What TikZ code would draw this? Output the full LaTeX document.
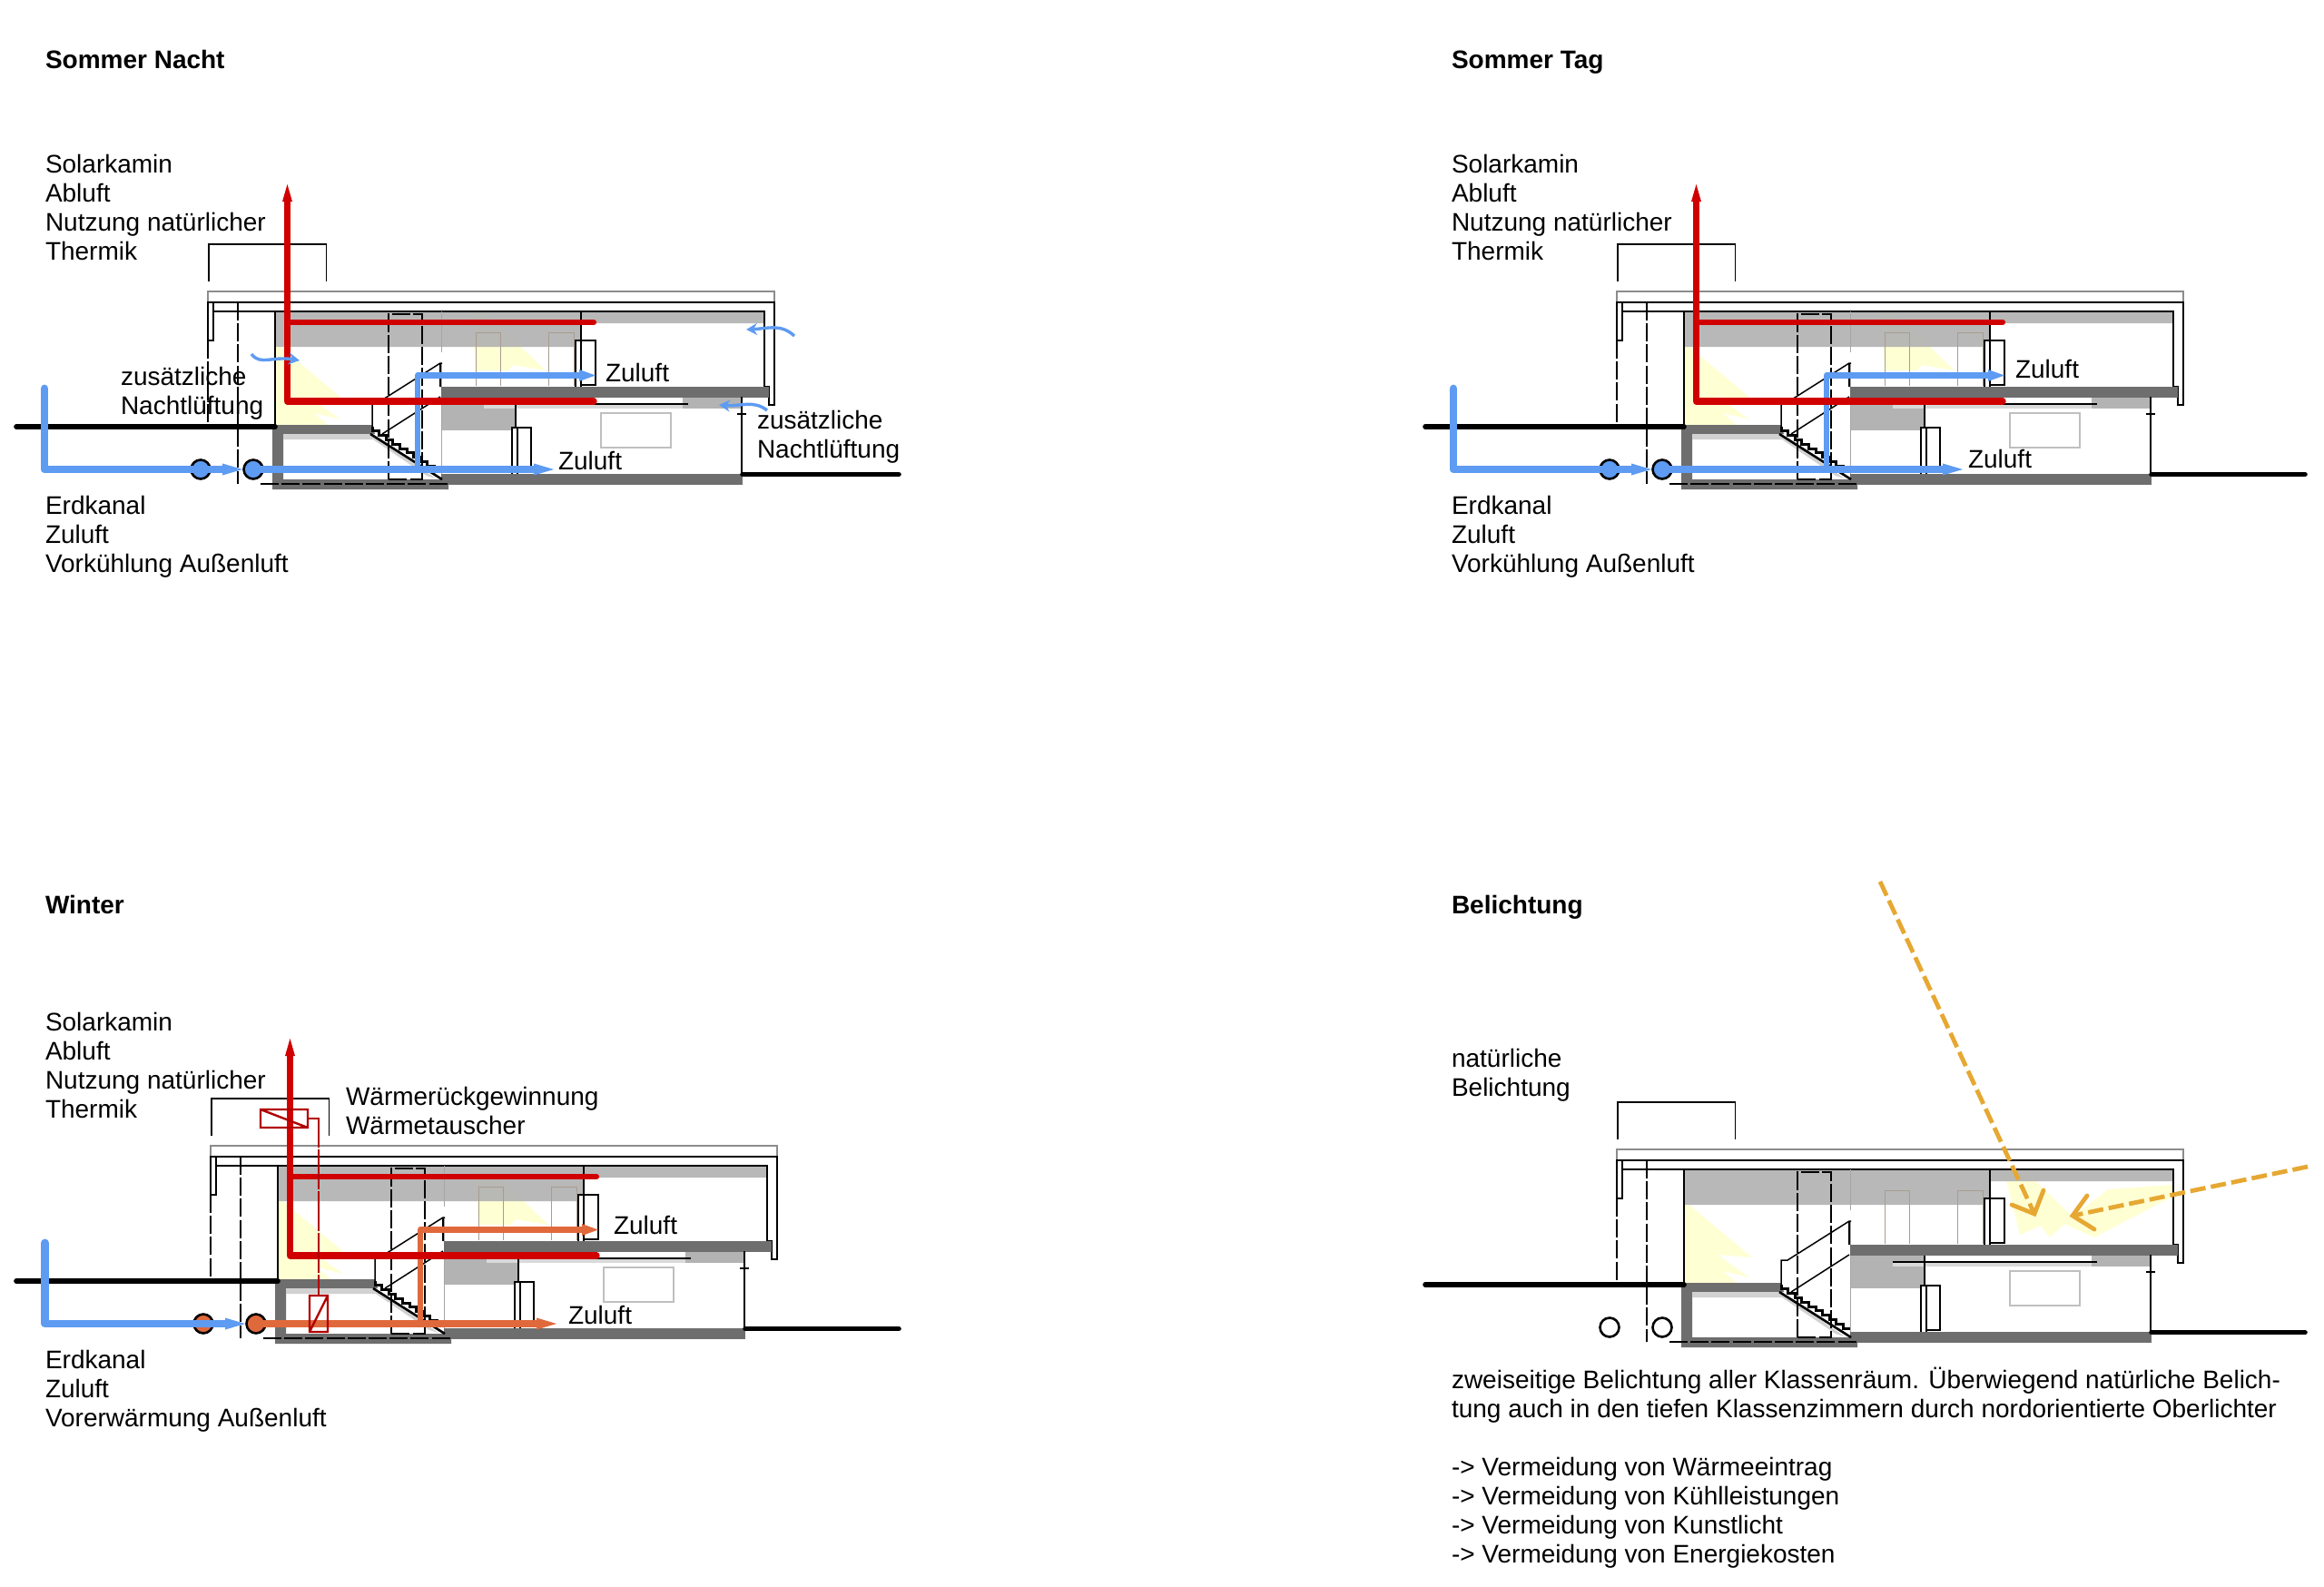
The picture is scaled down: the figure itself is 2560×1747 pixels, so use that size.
\documentclass[tikz,border=0pt]{standalone}
\usepackage{fontspec}
\setmainfont{Liberation Sans}
\usetikzlibrary{arrows.meta}
\definecolor{redair}{HTML}{D00000}
\definecolor{blueair}{HTML}{5E9BF2}
\definecolor{warmair}{HTML}{E0693C}
\definecolor{sunline}{HTML}{E6A832}
\definecolor{sunpatch}{HTML}{FFFFD4}
\definecolor{slabgrey}{HTML}{6E6E6E}
\definecolor{ceilgrey}{HTML}{B3B3B3}
\definecolor{doorline}{HTML}{A89C90}
\tikzset{
  x=0.5pt,y=-0.5pt,
  lbl/.style={anchor=north west,inner sep=0pt,outer sep=0pt,align=left,font=\fontsize{14}{16}\selectfont},
  hd/.style={lbl,font=\fontsize{14}{16}\selectfont\bfseries},
  thinblk/.style={draw=black,line width=0.75pt},
  longdash/.style={draw=black,line width=0.6pt,dash pattern=on 10pt off 1.6pt},
  hvac/.style={line width=#1,line cap=round,line join=round},
  sun/.style={draw=sunline,line width=2.4pt,line cap=round},
  sundash/.style={sun,line cap=butt,dash pattern=on 8.5pt off 3pt},
  swoosh/.style={draw=blueair,line width=1.7pt,-{Stealth[length=6pt,width=6.5pt]}},
}
\newcommand{\txt}[5][lbl]{\node[#1] (#2) at (#3,#4-22) {\rule{0pt}{11pt}#5};}
\newcommand{\gndL}{18}
\newcommand{\gndR}{990}
\newcommand{\ductX}{49}
% ---- one building section, in coordinates of the first panel
\newcommand{\building}{%
  % shaded ceilings
  \fill[ceilgrey,opacity=.93] (304,344)--(842,344)--(842,356)--(640,356)--(640,375)--(634,375)--(634,382)--(304,382)--cycle;
  \fill[ceilgrey] (486,438)--(568,438)--(568,474)--(486,474)--cycle;
  \fill[black!15] (533,445)--(752,445)--(752,450)--(533,450)--cycle;
  \fill[ceilgrey] (752,438)--(817,438)--(817,450)--(752,450)--cycle;
  % overhead frame
  \draw[black!45,line width=.7pt] (229,333)--(229,321)--(853,321)--(853,333);
  \draw[black,line width=.6pt] (230,310)--(230,269)--(359.5,269)--(359.5,310);
  \draw[black,line width=1.4pt,line join=miter] (229,333)--(853,333)--(853,446)--(847,446)--(847,426)--(842,426)--(842,343)--(235,343);
  \draw[black,line width=1.2pt,fill=white] (229,333) rectangle (235,375);
  % thin verticals
  \draw[thinblk] (303,343)--(303,470);
  \draw[thinblk] (640,343)--(640,427);
  \draw[black!35,line width=.5pt] (486,343)--(486,388) (486,400)--(486,523);
  % doors
  \draw[doorline,line width=.5pt] (524,425)--(524,366)--(551,366)--(551,425);
  \draw[doorline,line width=.5pt] (604,425)--(604,366)--(632,366)--(632,425);
  % wardrobe boxes
  \draw[thinblk,fill=white] (634,375) rectangle (656,424);
  \draw[thinblk,fill=white] (634,375) rectangle (640,427);
  \draw[thinblk] (568,438)--(568,471);
  \draw[thinblk,fill=white] (564,471) rectangle (585,520);
  \draw[thinblk,fill=white] (564,471) rectangle (570,523);
  % window
  \draw[black!25,line width=.7pt] (662,455) rectangle (739,493);
  % slabs
  \fill[slabgrey] (486,426)--(847,426)--(847,438)--(486,438)--cycle;
  \fill[slabgrey] (486,522)--(818,522)--(818,534)--(486,534)--cycle;
  % basement
  \fill[slabgrey] (300,468)--(410,468)--(413,478)--(312,478)--(312,528)--(486,528)--(494,528)--(494,539)--(300,539)--cycle;
  \fill[black!18] (312,478)--(410,478)--(418,484)--(312,484)--cycle;
  \fill[black!18] (408,478)--(480,527)--(470,524)--(405,480)--cycle;
  % stairs
  \draw[black,line width=1.3pt] (408,478)--(487,528);
  \draw[black,line width=1.5pt] (410,470)
    \foreach \i in {1,...,10}{ -- ++(0,4.8) -- ++(7.6,0) };
  \draw[black,line width=.75pt] (410,470)--(410,443)--(417,443)--(485,400)--(487,400);
  \draw[black,line width=1pt] (485,400)--(485,426);
  \draw[black,line width=.75pt] (421,478)--(485,437);
  % dashed lines
  \draw[longdash] (229,375)--(229,466);
  \draw[longdash] (262,333)--(262,533);
  \draw[longdash] (428,528)--(428,346)--(465,346)--(465,528)--(428,528);
  \draw[longdash] (287,533)--(493,533);
  % outer walls at the right
  \draw[thinblk] (817,437)--(817,522);
  \draw[thinblk,line width=.6pt] (812,456)--(822,456);
  \draw[black,line width=.9pt] (533,445)--(758,445);
  % ground
  \draw[black,line width=2.8pt,line cap=round] (\gndL,470)--(303,470);
  \draw[black,line width=2.8pt,line cap=round] (818,522.5)--(\gndR,522.5);
}
\newcommand{\sideyellow}{\fill[sunpatch] (304,378)--(378,440)--(340,437)--(375,462)--(346,455)--(361,468)--(304,468)--cycle;}
\newcommand{\midyellow}{\fill[sunpatch] (520,345)--(535,345)--(601,408)--(565,402)--(560,408)--(524,408)--cycle;}
\newcommand{\drain}[2]{%
  \draw[black,line width=1.3pt,fill=#1] (221,517) circle (10.5);
  \draw[black,line width=1.3pt,fill=#2] (279,517) circle (10.5);
}
\newcommand{\airsystem}[3]{% first colour, second colour, circle colour
  \draw[hvac=4.4pt,draw=#1] (\ductX,428)--(\ductX,517)--(248,517);
  \fill[#1] (245,510.5)--(245,523.5)--(267,517)--cycle;
  \draw[hvac=4.2pt,draw=#2,line cap=butt] (279,517)--(592,517);
  \fill[#2] (588,510.5)--(588,523.5)--(610,517)--cycle;
  \draw[hvac=3.3pt,draw=#2,line cap=butt] (460,517)--(460,413.5)--(642,413.5);
  \fill[#2] (638,407)--(638,420)--(656,413.5)--cycle;
}
\newcommand{\exhaust}{%
  \draw[redair,line width=3.7pt,line join=round,line cap=round] (316.5,222)--(316.5,442)--(654,442);
  \draw[redair,line width=3.1pt,line cap=round] (316.5,355)--(654,355);
  \fill[redair] (316.5,203)--(322,222)--(311,222)--cycle;
}
\begin{document}
\begin{tikzpicture}
\useasboundingbox (0,0) rectangle (2560,1747);
\fill[white] (0,0) rectangle (2560,1747);

% ============ Sommer Nacht
\begin{scope}
  \sideyellow \midyellow \building
  \drain{blueair}{blueair}
  \airsystem{blueair}{blueair}{blueair}
  \exhaust
  \draw[swoosh] (277,390) .. controls (287,403) and (300,392) .. (330,397);
  \draw[swoosh] (875,370) .. controls (860,356) and (845,362) .. (822,363);
  \draw[swoosh] (845,452) .. controls (830,440) and (815,448) .. (792,446);
\end{scope}
\txt[hd]{tnacht}{50}{75}{Sommer Nacht}
\txt{a1}{50}{190.5}{Solarkamin\\Abluft\\Nutzung natürlicher\\Thermik}
\txt{a2}{133}{424}{zusätzliche\\Nachtlüftung}
\txt{a3}{667}{420}{Zuluft}
\txt{a4}{615}{517}{Zuluft}
\txt{a5}{834}{472}{zusätzliche\\Nachtlüftung}
\txt{a6}{50}{566}{Erdkanal\\Zuluft\\Vorkühlung Außenluft}

% ============ Sommer Tag
\begin{scope}[shift={(1552,0)}]
  \renewcommand{\gndR}{987}
  \sideyellow \midyellow \building
  \drain{blueair}{blueair}
  \airsystem{blueair}{blueair}{blueair}
  \exhaust
\end{scope}
\txt[hd]{ttag}{1599}{75}{Sommer Tag}
\txt{b1}{1599}{190.5}{Solarkamin\\Abluft\\Nutzung natürlicher\\Thermik}
\txt{b3}{2220}{416}{Zuluft}
\txt{b4}{2168}{515}{Zuluft}
\txt{b6}{1599}{566}{Erdkanal\\Zuluft\\Vorkühlung Außenluft}

% ============ Winter
\begin{scope}[shift={(3,941)}]
  \renewcommand{\gndL}{15}
  \renewcommand{\gndR}{987}
  \renewcommand{\ductX}{46.5}
  \sideyellow \midyellow \building
  \drain{warmair}{warmair}
  \airsystem{blueair}{warmair}{warmair}
  \exhaust
  % heat exchangers
  \draw[redair!85!black,line width=.55pt,dash pattern=on 22pt off 1pt] (336,291)--(348,291)--(348,486);
  \draw[redair!85!black,line width=1.2pt] (284,281) rectangle (336,301) (284,281)--(336,301);
  \draw[redair!85!black,line width=1.2pt] (338,486) rectangle (358,526) (338,526)--(358,486);
\end{scope}
\txt[hd]{twinter}{50}{1006}{Winter}
\txt{c1}{50}{1135}{Solarkamin\\Abluft\\Nutzung natürlicher\\Thermik}
\txt{c2}{381}{1217}{Wärmerückgewinnung\\Wärmetauscher}
\txt{c3}{676}{1359}{Zuluft}
\txt{c4}{626}{1458}{Zuluft}
\txt{c6}{50}{1507}{Erdkanal\\Zuluft\\Vorerwärmung Außenluft}

% ============ Belichtung
\begin{scope}[shift={(1552,945)}]
  \renewcommand{\gndR}{987}
  \sideyellow
  \fill[sunpatch] (656,347)--(681,347)--(731,395)--(706,418)--(696,405)--(673,415)--cycle;
  \fill[sunpatch] (770,365)--(841,360)--(841,373)--(755,418)--(711,398)--(731,395)--cycle;
  \building
  \draw[black,line width=1.3pt] (221,517) circle (10.5);
  \draw[black,line width=1.3pt] (279,517) circle (10.5);
\end{scope}
\coordinate (s1) at (2071,971);
\coordinate (s1t) at (2241,1337);
\coordinate (s2) at (2542,1285);
\coordinate (s2t) at (2283,1339);
\draw[sundash] (s1)--(s1t);
\draw[sun] (2216,1327)--(s1t)--(2251,1311);
\draw[sundash] (s2)--(s2t);
\draw[sun] (2299,1317)--(s2t)--(2307,1354);
\txt[hd]{tbel}{1599}{1006}{Belichtung}
\txt{d1}{1599}{1175}{natürliche\\Belichtung}
\txt{d2}{1599}{1528}{zweiseitige Belichtung aller Klassenräum. Überwiegend natürliche Belich-\\tung auch in den tiefen Klassenzimmern durch nordorientierte Oberlichter\\[16pt]-> Vermeidung von Wärmeeintrag\\-> Vermeidung von Kühlleistungen\\-> Vermeidung von Kunstlicht\\-> Vermeidung von Energiekosten}
\end{tikzpicture}
\end{document}
